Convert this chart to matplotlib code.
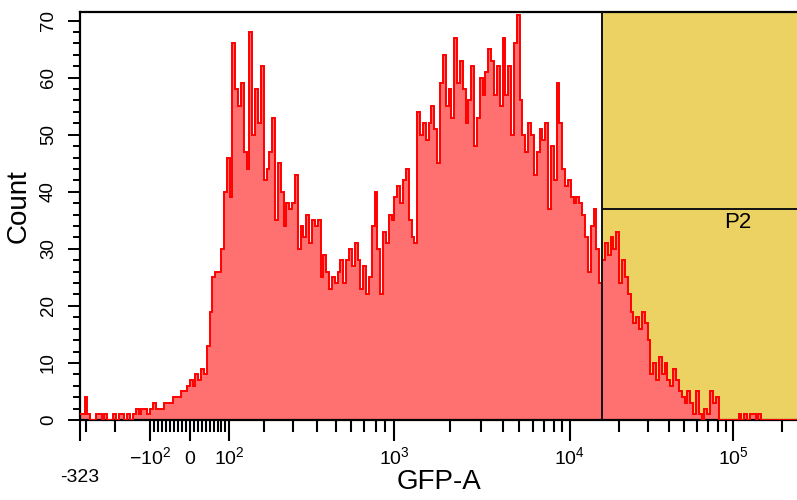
#!/usr/bin/env python

import matplotlib
matplotlib.use("Agg")
import matplotlib.pyplot as plt
import numpy as np
from matplotlib.ticker import FixedLocator, FixedFormatter, MultipleLocator
from matplotlib.transforms import blended_transform_factory

plt.rcParams["font.family"] = ["Liberation Sans", "DejaVu Sans"]
plt.rcParams["mathtext.fontset"] = "custom"
plt.rcParams["mathtext.rm"] = "Liberation Sans"
plt.rcParams["mathtext.it"] = "Liberation Sans"

# histogram counts, 256 bins evenly spaced on the biexponential display scale
counts = [
    0, 0, 1, 1, 4, 1, 0, 0, 1, 1, 0, 1, 0, 0, 1, 0,
    1, 1, 0, 1, 0, 1, 2, 1, 2, 2, 1, 2, 3, 2, 2, 2,
    3, 3, 3, 4, 4, 4, 5, 5, 6, 7, 6, 8, 7, 9, 8, 13,
    19, 25, 26, 26, 30, 40, 46, 39, 66, 58, 55, 59, 47, 44, 68, 50,
    58, 52, 62, 42, 44, 47, 53, 35, 45, 40, 34, 38, 37, 38, 43, 30,
    34, 32, 36, 31, 35, 34, 35, 25, 29, 26, 23, 25, 24, 26, 28, 24,
    28, 30, 27, 31, 28, 23, 27, 22, 25, 34, 40, 30, 22, 33, 31, 36,
    35, 39, 41, 38, 42, 44, 35, 32, 31, 54, 50, 52, 49, 52, 55, 51,
    45, 59, 64, 55, 58, 53, 67, 59, 63, 58, 52, 56, 62, 48, 53, 60,
    57, 61, 65, 63, 57, 62, 55, 67, 57, 62, 50, 66, 71, 56, 50, 47,
    52, 50, 43, 47, 51, 49, 52, 37, 48, 42, 59, 52, 44, 41, 42, 39,
    38, 39, 38, 36, 32, 26, 34, 37, 30, 24, 28, 31, 29, 32, 30, 33,
    24, 28, 25, 22, 19, 17, 18, 16, 19, 17, 14, 8, 10, 7, 11, 8,
    10, 7, 6, 9, 7, 5, 4, 3, 5, 3, 1, 5, 1, 0, 2, 1,
    5, 3, 4, 0, 0, 0, 0, 0, 0, 0, 1, 0, 1, 0, 1, 1,
    0, 1, 0, 0, 0, 0, 0, 0, 0, 0, 0, 0, 0, 0, 0, 0,
]

x_min = -323
gate_low = 15600
gate_level = 36.9
y_max = 71.5

major_ticks = [-323, -100, 0, 100, 1000, 10000, 100000]
major_labels = ["", r"$-10^{2}$", "0", r"$10^{2}$", r"$10^{3}$",
                r"$10^{4}$", r"$10^{5}$"]
minor_ticks = ([-300, -200] + list(range(-90, 0, 10)) + list(range(10, 100, 10))
               + list(range(200, 1000, 100)) + list(range(2000, 10000, 1000))
               + list(range(20000, 100000, 10000)) + [200000])

# biexponential (logicle) display transform
T, M, W = 262144.0, 4.5, 0.72


def _solve_d(b, w):
    lo, hi = 1e-8, b
    for _ in range(200):
        mid = 0.5 * (lo + hi)
        if 2 * (np.log(mid) - np.log(b)) + w * (b + mid) > 0:
            hi = mid
        else:
            lo = mid
    return 0.5 * (lo + hi)


_w = W / M
_x1 = _w
_x0 = 2 * _w
_b = M * np.log(10)
_d = _solve_d(_b, _w)
_ca = np.exp(_x0 * (_b + _d))
_mfa = np.exp(_b * _x1) - _ca / np.exp(_d * _x1)
_a = T / ((np.exp(_b) - _mfa) - _ca / np.exp(_d))
_c = _ca * _a
_f = -_mfa * _a


def biex_inverse(x):
    x = np.asarray(x, dtype=float)
    neg = x < _x1
    xx = np.where(neg, 2 * _x1 - x, x)
    v = _a * np.exp(_b * xx) - _c * np.exp(-_d * xx) + _f
    return np.where(neg, -v, v)


_grid = np.linspace(-0.3, 1.2, 30001)
_grid_vals = biex_inverse(_grid)


def biex_forward(v):
    return np.interp(np.asarray(v, dtype=float), _grid_vals, _grid)


def main():
    fig = plt.figure(figsize=(7.97, 5.0), dpi=100)
    ax = fig.add_axes([80 / 797, 80 / 500, 717 / 797, 408 / 500])
    ax.set_xscale("function", functions=(biex_forward, biex_inverse))

    x_max = float(biex_inverse(biex_forward(x_min) + 717 / 728))
    edges = biex_inverse(np.linspace(0, 1, len(counts) + 1))

    ax.axvspan(gate_low, x_max * 2, color="#ecd263", lw=0, zorder=0)
    ax.stairs(counts, edges, fill=True, color="#ff7070", lw=0, zorder=2)
    ax.stairs(counts, edges, baseline=None, color="#ff0000", lw=1.4, zorder=3)

    ax.axvline(gate_low, color="#111111", lw=1.4, zorder=4)
    ax.plot([gate_low, x_max * 2], [gate_level, gate_level],
            color="#111111", lw=1.4, zorder=4)
    ax.text(gate_low * 6.8, gate_level - 0.4, "P2", fontsize=16,
            ha="center", va="top", zorder=5)

    ax.set_xlim(x_min, x_max)
    ax.set_ylim(0, y_max)

    ax.xaxis.set_major_locator(FixedLocator(major_ticks))
    ax.xaxis.set_major_formatter(FixedFormatter(major_labels))
    ax.xaxis.set_minor_locator(FixedLocator(minor_ticks))
    ax.yaxis.set_major_locator(MultipleLocator(10))
    ax.yaxis.set_minor_locator(MultipleLocator(2))

    ax.tick_params(axis="x", which="major", length=15, width=1.5,
                   labelsize=14, pad=17)
    ax.tick_params(axis="x", which="minor", length=8.5, width=1.5)
    ax.tick_params(axis="y", which="major", length=8.5, width=1.4,
                   labelsize=13.5, labelrotation=90, pad=8)
    ax.tick_params(axis="y", which="minor", length=5, width=1.4)
    for lbl in ax.get_xticklabels():
        lbl.set_verticalalignment("baseline")
    for lbl in ax.get_yticklabels():
        lbl.set_verticalalignment("center")

    trans = blended_transform_factory(ax.transData, ax.transAxes)
    ax.text(x_min, -0.152, "-323", transform=trans, fontsize=14,
            ha="center", va="baseline")

    ax.set_xlabel("GFP-A", fontsize=20)
    ax.xaxis.set_label_coords(0.5, -0.12)
    ax.set_ylabel("Count", fontsize=20)
    ax.yaxis.set_label_coords(-0.067, 0.524)

    for side in ["left", "bottom", "top"]:
        ax.spines[side].set_linewidth(1.6)
    ax.spines["right"].set_visible(False)

    fig.savefig("out.png", dpi=100)


if __name__ == "__main__":
    main()
